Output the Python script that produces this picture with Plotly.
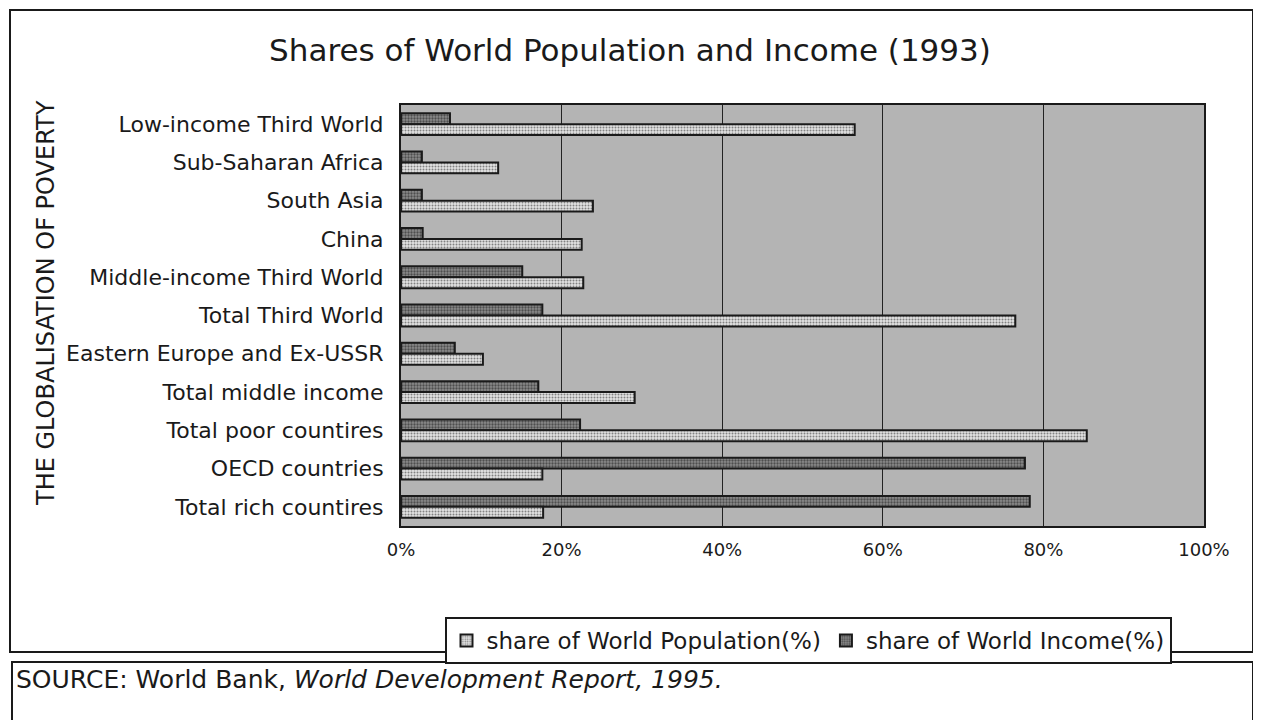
import plotly.graph_objects as go

categories = [
    "Low-income Third World",
    "Sub-Saharan Africa",
    "South Asia",
    "China",
    "Middle-income Third World",
    "Total Third World",
    "Eastern Europe and Ex-USSR",
    "Total middle income",
    "Total poor countires",
    "OECD countries",
    "Total rich countires",
]
population_share = [56.5, 12.1, 23.9, 22.5, 22.7, 76.5, 10.2, 29.1, 85.4, 17.6, 17.7]
income_share = [6.1, 2.6, 2.6, 2.7, 15.1, 17.6, 6.7, 17.1, 22.3, 77.7, 78.3]
x_ticks = [0, 20, 40, 60, 80, 100]

FONT = "DejaVu Sans"
OFF = 8  # page body margin
W, H = 1261 - OFF, 720 - OFF
# plot area in page pixel coordinates
L, R, T, B = 401, 1204, 105, 526


def px_x(x):
    return (x - L) / (R - L)


def px_y(y):
    return (B - y) / (B - T)


fig = go.Figure()
fig.add_trace(go.Bar(
    y=categories, x=income_share, orientation="h",
    name="share of World Income(%)", legendrank=2,
    marker=dict(color="#7a7a7a", line=dict(color="#1a1a1a", width=2),
                pattern=dict(shape=".", fgcolor="#111111", bgcolor="#8a8a8a",
                             size=3, solidity=0.45)),
    hoverinfo="skip",
))
fig.add_trace(go.Bar(
    y=categories, x=population_share, orientation="h",
    name="share of World Population(%)", legendrank=1,
    marker=dict(color="#d0d0d0", line=dict(color="#1a1a1a", width=2),
                pattern=dict(shape=".", fgcolor="#222222", bgcolor="#e2e2e2",
                             size=3, solidity=0.35)),
    hoverinfo="skip",
))

fig.update_layout(
    width=W, height=H,
    margin=dict(l=L - OFF, r=1261 - R, t=T - OFF, b=720 - B),
    paper_bgcolor="white",
    plot_bgcolor="#b4b4b4",
    barmode="group",
    bargap=0.43,
    bargroupgap=0.0,
    font=dict(family=FONT, color="#1a1a1a"),
    title=dict(text="Shares of World Population and Income (1993)",
               x=(630 - OFF) / W, xanchor="center",
               y=1 - (50 - OFF) / H, yanchor="middle",
               font=dict(family=FONT, size=31, color="#1a1a1a")),
    xaxis=dict(range=[0, 100], tickvals=x_ticks,
               ticktext=[f"{v}%" for v in x_ticks],
               showgrid=True, gridcolor="#222222", gridwidth=1,
               showline=True, linecolor="#1a1a1a", linewidth=2, mirror=True,
               zeroline=False, ticks="", ticklabelstandoff=6,
               tickfont=dict(family=FONT, size=18)),
    yaxis=dict(autorange="reversed", showgrid=False,
               showline=True, linecolor="#1a1a1a", linewidth=2, mirror=True,
               ticks="", ticklabelstandoff=11,
               tickfont=dict(family=FONT, size=22)),
    legend=dict(orientation="h", x=px_x(808), xanchor="center",
                y=px_y(617), yanchor="top",
                bordercolor="#1a1a1a", borderwidth=2, bgcolor="white",
                font=dict(family=FONT, size=23),
                traceorder="normal", itemwidth=30),
    showlegend=True,
)

# outer chart frame
fig.add_shape(type="rect", xref="paper", yref="paper",
              x0=px_x(10), x1=px_x(1253), y0=px_y(652), y1=px_y(10),
              line=dict(color="#1a1a1a", width=2), layer="below")
# source box
fig.add_shape(type="rect", xref="paper", yref="paper",
              x0=px_x(12), x1=px_x(1253), y0=px_y(730), y1=px_y(662),
              line=dict(color="#1a1a1a", width=2), layer="below")

fig.add_annotation(text="THE GLOBALISATION OF POVERTY", textangle=-90,
                   xref="paper", yref="paper", x=px_x(46), y=px_y(303),
                   xanchor="center", yanchor="middle", showarrow=False,
                   font=dict(family=FONT, size=24, color="#1a1a1a"))
fig.add_annotation(text="SOURCE: World Bank, <i>World Development Report, 1995.</i>",
                   xref="paper", yref="paper", x=px_x(14), y=px_y(679),
                   xanchor="left", yanchor="middle", showarrow=False,
                   font=dict(family=FONT, size=25, color="#1a1a1a"))

fig.write_html("out.html")
